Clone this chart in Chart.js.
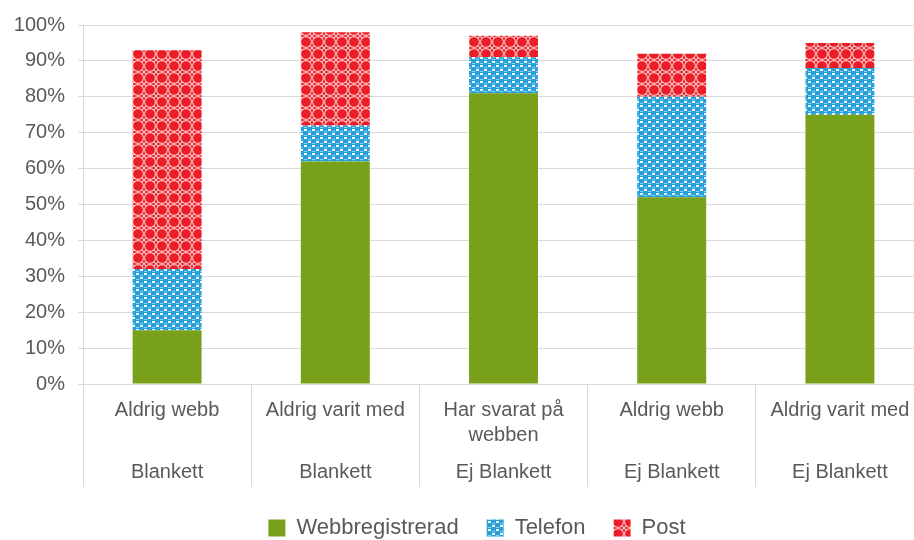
<!DOCTYPE html>
<html>
<head>
<meta charset="utf-8">
<script src="https://cdn.jsdelivr.net/npm/chart.js@4"></script>
<style>
  html, body { margin: 0; padding: 0; background: #fff; overflow: hidden; }
  #wrap { width: 914px; height: 540px; overflow: hidden; }
</style>
</head>
<body>
<div id="wrap"><canvas id="chart" width="954" height="549"></canvas></div>
<script>
// data
const categories = [["Aldrig webb"], ["Aldrig varit med"], ["Har svarat på", "webben"], ["Aldrig webb"], ["Aldrig varit med"]];
const groups = ["Blankett", "Blankett", "Ej Blankett", "Ej Blankett", "Ej Blankett"];
const webbValues = [15, 62, 81, 52, 75];
const telefonValues = [17, 10, 10, 28, 13];
const postValues = [61, 26, 6, 12, 7];
const yTicks = [0, 10, 20, 30, 40, 50, 60, 70, 80, 90, 100];

const textColor = "#595959";
const gridColor = "#d9d9d9";
const fontFamily = "'Liberation Sans', Arial, sans-serif";

// =========================
// Fill patterns
// =========================
function makeTile(size, draw) {
    const c = document.createElement("canvas");
    c.width = size;
    c.height = size;
    draw(c.getContext("2d"));
    return c.getContext("2d").createPattern(c, "repeat");
}

const ctx = document.getElementById("chart").getContext("2d");

const bluePattern = makeTile(8, function (g) {
    g.fillStyle = "#27a1dc";
    g.fillRect(0, 0, 8, 8);
    g.fillStyle = "rgba(255,255,255,0.95)";
    g.fillRect(0, 1, 3, 2);
    g.fillRect(4, 5, 3, 2);
    g.fillStyle = "rgba(255,255,255,0.5)";
    g.fillRect(4, 3, 3, 1);
    g.fillRect(0, 7, 3, 1);
});

const redPattern = makeTile(12, function (g) {
    g.fillStyle = "#ea1c25";
    g.fillRect(0, 0, 12, 12);
    g.strokeStyle = "rgba(255,255,255,0.75)";
    g.lineWidth = 1.1;
    g.beginPath();
    g.arc(6, 6, 5.4, 0, Math.PI * 2);
    g.stroke();
    // little crosses where the rings meet
    g.beginPath();
    g.moveTo(0, 0); g.lineTo(2.4, 2.4);
    g.moveTo(12, 0); g.lineTo(9.6, 2.4);
    g.moveTo(0, 12); g.lineTo(2.4, 9.6);
    g.moveTo(12, 12); g.lineTo(9.6, 9.6);
    g.stroke();
});

// =========================
// Group labels below the ticks
// =========================
const groupLabels = {
    id: "groupLabels",
    afterLayout(chart) {
        // legend sits a little right of the canvas centre
        chart.legend.left += 15;
        chart.legend.right += 15;
    },
    afterDraw(chart) {
        const x = chart.scales.x;
        const c = chart.ctx;
        c.save();
        c.font = "20px " + fontFamily;
        c.fillStyle = textColor;
        c.textAlign = "center";
        c.textBaseline = "middle";
        groups.forEach(function (g, i) {
            c.fillText(g, x.getPixelForValue(i), 472);
        });
        c.restore();
    }
};

new Chart(ctx, {
    type: "bar",
    data: {
        labels: categories,
        datasets: [
            { label: "Webbregistrerad", data: webbValues, backgroundColor: "#78a01a", borderWidth: 0 },
            { label: "Telefon", data: telefonValues, backgroundColor: bluePattern, borderWidth: 0 },
            { label: "Post", data: postValues, backgroundColor: redPattern, borderWidth: 0 }
        ]
    },
    options: {
        responsive: false,
        animation: false,
        layout: { padding: { top: 23, right: 30, left: 0, bottom: 0 } },
        datasets: { bar: { categoryPercentage: 1, barPercentage: 0.41 } },
        plugins: {
            legend: {
                position: "bottom",
                labels: {
                    font: { family: fontFamily, size: 22 },
                    color: textColor,
                    boxWidth: 17,
                    boxHeight: 17,
                    padding: 28
                }
            },
            tooltip: { enabled: false }
        },
        scales: {
            x: {
                stacked: true,
                afterFit(scale) { scale.height = 105; },
                border: { color: gridColor },
                grid: {
                    offset: true,
                    drawOnChartArea: false,
                    tickLength: 103,
                    color: gridColor
                },
                ticks: {
                    padding: -89.5,
                    color: textColor,
                    font: { family: fontFamily, size: 20, lineHeight: "25px" },
                    maxRotation: 0,
                    autoSkip: false
                }
            },
            y: {
                stacked: true,
                min: 0,
                max: 100,
                afterFit(scale) { scale.width = 83; },
                afterBuildTicks(scale) { scale.ticks = yTicks.map(v => ({ value: v })); },
                border: { color: gridColor },
                grid: { color: gridColor, tickLength: 5 },
                ticks: {
                    padding: 13,
                    color: textColor,
                    font: { family: fontFamily, size: 20 },
                    callback: v => v + "%"
                }
            }
        }
    },
    plugins: [groupLabels]
});
</script>
</body>
</html>
